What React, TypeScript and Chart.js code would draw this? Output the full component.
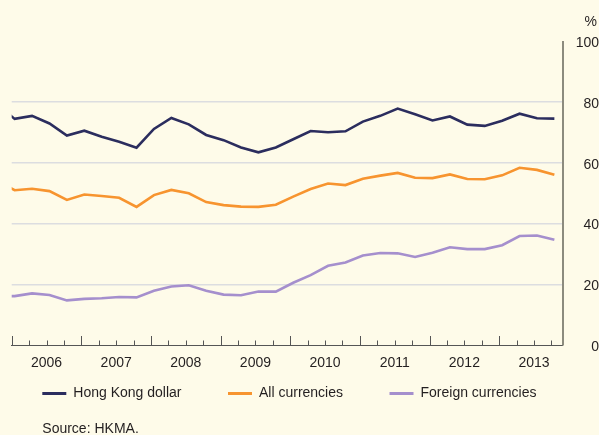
import { useEffect, useRef } from "react";
import { Chart, registerables } from "chart.js";

Chart.register(...registerables);

// Quarterly observations (first one lies just before the visible window)
const quarters = [
  "2005 Q4",
  "2006 Q1", "2006 Q2", "2006 Q3", "2006 Q4",
  "2007 Q1", "2007 Q2", "2007 Q3", "2007 Q4",
  "2008 Q1", "2008 Q2", "2008 Q3", "2008 Q4",
  "2009 Q1", "2009 Q2", "2009 Q3", "2009 Q4",
  "2010 Q1", "2010 Q2", "2010 Q3", "2010 Q4",
  "2011 Q1", "2011 Q2", "2011 Q3", "2011 Q4",
  "2012 Q1", "2012 Q2", "2012 Q3", "2012 Q4",
  "2013 Q1", "2013 Q2", "2013 Q3", "2013 Q4",
];

const hongKongDollar = [
  79.2,
  74.5, 75.5, 73.0, 69.0,
  70.6, 68.6, 67.0, 65.0,
  71.2, 74.8, 72.7, 69.2,
  67.5, 65.1, 63.5, 65.1,
  67.8, 70.5, 70.1, 70.4,
  73.6, 75.5, 77.9, 76.0,
  74.0, 75.3, 72.6, 72.2,
  73.9, 76.2, 74.7, 74.6,
];

const allCurrencies = [
  54.2,
  51.0, 51.5, 50.7, 47.8,
  49.6, 49.1, 48.5, 45.5,
  49.4, 51.1, 50.0, 47.1,
  46.1, 45.6, 45.5, 46.2,
  48.9, 51.4, 53.2, 52.7,
  54.8, 55.8, 56.7, 55.1,
  55.0, 56.2, 54.7, 54.6,
  55.9, 58.4, 57.7, 56.1,
];

const foreignCurrencies = [
  16.1,
  16.1, 17.0, 16.5, 14.7,
  15.2, 15.4, 15.8, 15.7,
  17.9, 19.3, 19.7, 17.9,
  16.6, 16.4, 17.6, 17.6,
  20.5, 23.0, 26.1, 27.2,
  29.5, 30.3, 30.2, 29.0,
  30.4, 32.2, 31.6, 31.6,
  32.9, 35.9, 36.1, 34.7,
];

const seriesLabels = ["Hong Kong dollar", "All currencies", "Foreign currencies"];
const yearLabels = ["2006", "2007", "2008", "2009", "2010", "2011", "2012", "2013"];
const yTickValues = [0, 20, 40, 60, 80, 100];
const xMin = 2006;
const xMax = 2013.912;
const unitLabel = "%";
const sourceNote = "Source: HKMA.";

const FONT = "'Liberation Sans', Arial, Helvetica, sans-serif";
const TEXT = "#231f20";
const COLORS = ["#2b2d5e", "#f7942f", "#a58fcd"];

function quarterToX(q: string): number {
  const [y, n] = q.split(" Q");
  return Number(y) + (Number(n) - 1 + 0.17) / 4;
}

const overlay = {
  id: "overlay",
  afterDraw(chart: any) {
    const { ctx, chartArea, scales } = chart;
    const xs = scales.x;
    ctx.save();
    // upward tick marks on the baseline at every quarter
    ctx.strokeStyle = "#555555";
    ctx.lineWidth = 1;
    const first = Number(yearLabels[0]);
    for (let q = 0; ; q++) {
      const v = first + q / 4;
      if (v > xMax) break;
      const px = Math.round(xs.getPixelForValue(v)) + 0.5;
      const len = q % 4 === 0 ? 9 : 4.5;
      ctx.beginPath();
      ctx.moveTo(px, chartArea.bottom);
      ctx.lineTo(px, chartArea.bottom - len);
      ctx.stroke();
    }
    // legend
    ctx.font = `14px ${FONT}`;
    ctx.textBaseline = "middle";
    ctx.textAlign = "left";
    let x = 42.3;
    const y = 393.5;
    chart.data.datasets.forEach((ds: any) => {
      ctx.strokeStyle = ds.borderColor;
      ctx.lineWidth = 3;
      ctx.beginPath();
      ctx.moveTo(x, y);
      ctx.lineTo(x + 24, y);
      ctx.stroke();
      ctx.fillStyle = TEXT;
      ctx.fillText(ds.label, x + 31, y);
      x += 31 + ctx.measureText(ds.label).width + 46.5;
    });
    // source note
    ctx.fillText(sourceNote, 42.3, 429.3);
    // unit label
    ctx.textAlign = "right";
    ctx.fillText(unitLabel, 597, 22.5);
    ctx.restore();
  },
};

export default function App() {
  const ref = useRef<HTMLCanvasElement>(null);

  useEffect(() => {
    if (!ref.current) return;
    const series = [hongKongDollar, allCurrencies, foreignCurrencies];
    const chart = new Chart(ref.current, {
      type: "line",
      data: {
        datasets: series.map((vals, i) => ({
          label: seriesLabels[i],
          data: quarters.map((q, j) => ({ x: quarterToX(q), y: vals[j] })),
          borderColor: COLORS[i],
          backgroundColor: COLORS[i],
          borderWidth: 2.6,
          pointRadius: 0,
          tension: 0,
          clip: 0,
          borderJoinStyle: "miter" as const,
        })),
      },
      options: {
        responsive: false,
        animation: false,
        events: [],
        layout: { padding: { left: 11.7, top: 41.5, right: 0, bottom: 0 } },
        plugins: {
          legend: { display: false },
          tooltip: { enabled: false },
        },
        scales: {
          x: {
            type: "linear",
            position: "bottom",
            min: xMin,
            max: xMax,
            grid: { display: false, drawTicks: false },
            border: { display: true, color: "#555555", width: 1 },
            afterBuildTicks: (s: any) => {
              s.ticks = yearLabels.map((y) => ({ value: Number(y) + 0.5 }));
            },
            ticks: {
              autoSkip: false,
              maxRotation: 0,
              padding: 10,
              color: TEXT,
              font: { family: FONT, size: 14 },
              callback: (v: any) => String(Math.floor(Number(v))),
            },
            afterFit: (s: any) => {
              s.height = 90;
            },
          },
          y: {
            type: "linear",
            position: "right",
            min: 0,
            max: 100,
            afterBuildTicks: (s: any) => {
              s.ticks = yTickValues.map((v) => ({ value: v }));
            },
            grid: {
              drawTicks: false,
              lineWidth: 1.6,
              color: (c: any) =>
                c.tick && (c.tick.value === 0 || c.tick.value === 100)
                  ? "rgba(0,0,0,0)"
                  : "#dcdde0",
            },
            border: { display: true, color: "#8c8b7e", width: 2 },
            ticks: {
              padding: 11,
              crossAlign: "far",
              labelOffset: 2,
              color: TEXT,
              font: { family: FONT, size: 14 },
            },
            afterFit: (s: any) => {
              s.width = 36.3;
            },
          },
        },
      },
      plugins: [overlay],
    });
    return () => chart.destroy();
  }, []);

  return (
    <div style={{ position: "absolute", left: 0, top: 0, width: 599, height: 435 }}>
      <canvas
        ref={ref}
        width={599}
        height={435}
        style={{ display: "block", width: 599, height: 435, background: "#fefbe9" }}
      />
    </div>
  );
}
